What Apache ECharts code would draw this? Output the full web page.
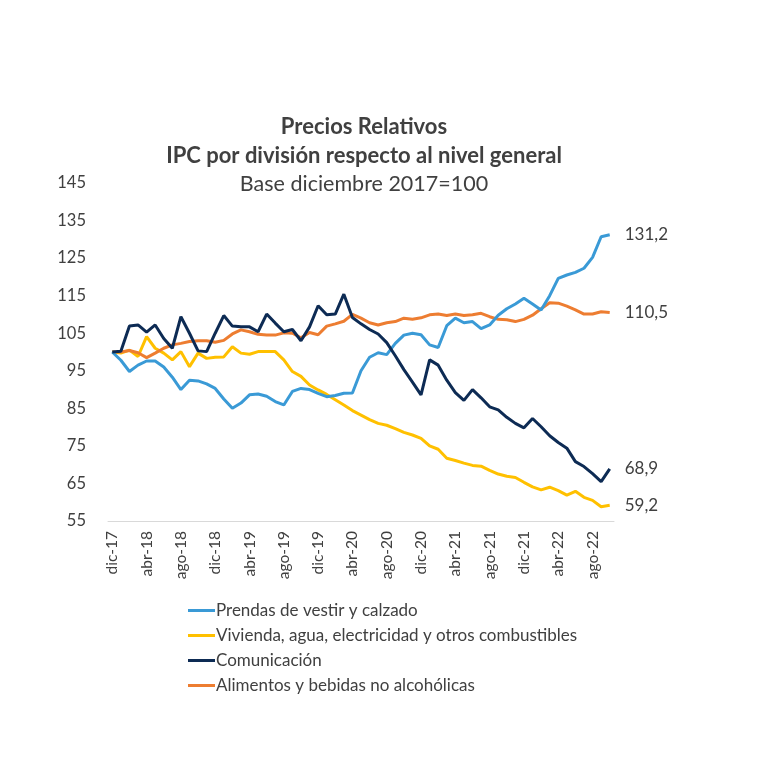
<!DOCTYPE html>
<html>
<head>
<meta charset="utf-8">
<script src="https://cdn.jsdelivr.net/npm/echarts@6/dist/echarts.min.js"></script>
<style>html,body{margin:0;padding:0;background:#fff}#c{width:768px;height:768px}</style>
</head>
<body>
<div id="c"></div>
<script>
const months = ['dic-17','ene-18','feb-18','mar-18','abr-18','may-18','jun-18','jul-18','ago-18','sep-18','oct-18','nov-18',
'dic-18','ene-19','feb-19','mar-19','abr-19','may-19','jun-19','jul-19','ago-19','sep-19','oct-19','nov-19',
'dic-19','ene-20','feb-20','mar-20','abr-20','may-20','jun-20','jul-20','ago-20','sep-20','oct-20','nov-20',
'dic-20','ene-21','feb-21','mar-21','abr-21','may-21','jun-21','jul-21','ago-21','sep-21','oct-21','nov-21',
'dic-21','ene-22','feb-22','mar-22','abr-22','may-22','jun-22','jul-22','ago-22','sep-22','oct-22'];

const prendas = [100,97.8,94.8,96.5,97.6,97.6,96.0,93.3,90.0,92.5,92.3,91.5,
90.3,87.5,85.0,86.4,88.6,88.8,88.2,86.8,85.9,89.5,90.3,90.0,
89.0,88.1,88.4,89.0,89.1,95.0,98.6,99.8,99.3,102.3,104.5,105.0,
104.6,101.9,101.2,107.0,109.0,107.8,108.1,106.2,107.2,109.8,111.5,112.8,
114.3,112.8,111.2,115.0,119.6,120.5,121.2,122.3,125.2,130.7,131.2];

const vivienda = [100,99.7,100.5,98.8,104.1,101.0,99.7,97.9,100.1,96.1,99.7,98.3,
98.6,98.7,101.4,99.7,99.4,100.1,100.1,100.1,97.9,94.8,93.5,91.2,
89.9,88.7,87.3,85.9,84.4,83.2,82.0,81.0,80.5,79.6,78.6,77.9,
77.0,75.0,74.1,71.7,71.1,70.4,69.8,69.6,68.5,67.5,66.9,66.6,
65.3,64.1,63.3,64.0,63.1,61.9,62.9,61.3,60.5,58.8,59.2];

const comunicacion = [100,100.2,106.9,107.2,105.3,107.2,103.6,101.0,109.4,105.0,100.3,100.1,
105.0,109.7,106.9,106.7,106.7,105.4,110.1,107.7,105.4,106.0,103.0,106.7,
112.3,109.9,110.1,115.4,109.2,107.5,106.0,104.8,102.5,99.0,95.3,92.0,
88.6,97.9,96.5,92.5,89.2,87.1,90.0,87.8,85.4,84.6,82.6,81.0,
79.8,82.3,80.1,77.7,75.9,74.4,70.8,69.5,67.6,65.5,68.9];

const alimentos = [100,100,100.4,99.8,98.5,99.7,101.0,101.9,102.3,102.8,103.0,103.0,
102.6,103.1,104.8,105.9,105.4,104.7,104.5,104.5,105.1,105.0,103.8,105.2,
104.6,106.9,107.5,108.2,110.0,109.0,107.8,107.2,107.8,108.1,109.0,108.7,
109.1,109.9,110.1,109.7,110.1,109.7,109.9,110.3,109.4,108.7,108.6,108.1,
108.7,109.8,111.5,113.1,113.0,112.2,111.2,110.1,110.1,110.7,110.5];

const seriesNames = ['Prendas de vestir y calzado','Vivienda, agua, electricidad y otros combustibles','Comunicación','Alimentos y bebidas no alcohólicas'];
const seriesColors = ['#3A9AD6','#FFC000','#0D2B54','#ED7D31'];
const titleLines = ['Precios Relativos','IPC por división respecto al nivel general','Base diciembre 2017=100'];

const FONT = 'Lato, Carlito, "Open Sans", sans-serif';
const TXT = '#404040';

const chart = echarts.init(document.getElementById('c'), null, {renderer:'canvas'});
const dataSets = [prendas, vivienda, comunicacion, alimentos];

chart.setOption({
  animation:false,
  backgroundColor:'#fff',
  title:[
    {text:titleLines[0], left:359, top:111, textAlign:'center', textStyle:{fontFamily:FONT,fontSize:22,fontWeight:'bold',color:TXT}},
    {text:titleLines[1], left:359, top:140, textAlign:'center', textStyle:{fontFamily:FONT,fontSize:22,fontWeight:'bold',color:TXT}},
    {text:titleLines[2], left:359, top:168, textAlign:'center', textStyle:{fontFamily:FONT,fontSize:21.5,fontWeight:'normal',color:TXT}}
  ],
  legend:{
    orient:'vertical', left:183, top:597, itemGap:8,
    itemWidth:27, itemHeight:3, icon:'rect',
    textStyle:{fontFamily:FONT,fontSize:17,color:TXT,padding:[0,0,0,-4]},
    data:seriesNames
  },
  grid:{left:108, right:154, top:183, bottom:247, containLabel:false},
  xAxis:{
    type:'category', data:months, boundaryGap:true,
    axisLine:{lineStyle:{color:'#D9D9D9',width:1}},
    axisTick:{interval:3, length:5, lineStyle:{color:'#D9D9D9'}},
    axisLabel:{interval:3, rotate:90, margin:10, fontFamily:FONT, fontSize:15.5, color:TXT}
  },
  yAxis:{
    type:'value', min:55, max:145, interval:10,
    axisLine:{show:false}, axisTick:{show:false}, splitLine:{show:false},
    axisLabel:{margin:22, fontFamily:FONT, fontSize:16.5, color:TXT}
  },
  series: dataSets.map((d,i)=>({
    name:seriesNames[i], type:'line', data:d, showSymbol:false, symbol:'none',
    lineStyle:{width:3, color:seriesColors[i]}, itemStyle:{color:seriesColors[i]},
    z: i===2?5:(i===0?4:3),
    endLabel:{show:true, distance:15, fontFamily:FONT, fontSize:17, color:TXT,
      formatter:p=>p.value.toFixed(1).replace('.',',')}
  }))
});
</script>
</body>
</html>
